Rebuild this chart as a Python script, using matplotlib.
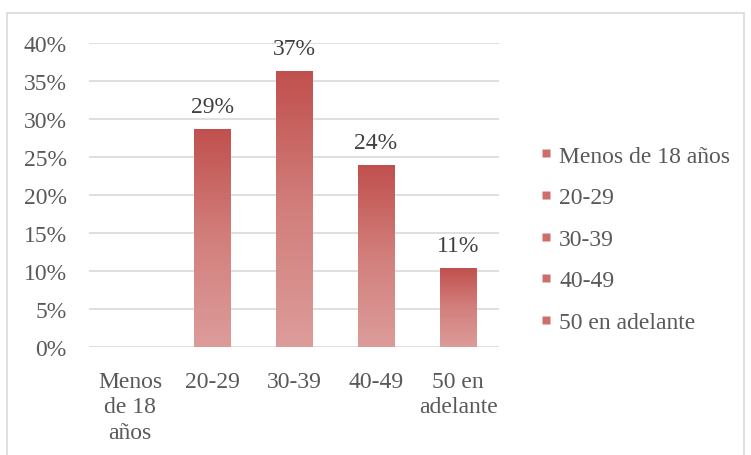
import numpy as np
import matplotlib.pyplot as plt
from matplotlib.colors import LinearSegmentedColormap
from matplotlib.patches import Rectangle
from matplotlib.lines import Line2D

categories = ["Menos\nde 18\naños", "20-29", "30-39", "40-49", "50 en\nadelante"]
legend_labels = ["Menos de 18 años", "20-29", "30-39", "40-49", "50 en adelante"]
values = [0.0, 28.7, 36.3, 23.9, 10.4]
value_labels = [None, "29%", "37%", "24%", "11%"]
yticks = [0, 5, 10, 15, 20, 25, 30, 35, 40]

plt.rcParams['font.family'] = ['Liberation Serif', 'DejaVu Serif']
text_color = "#595959"
grid_color = "#D9D9D9"
top_color = "#C0504D"
bottom_color = "#DC9C9A"
cmap = LinearSegmentedColormap.from_list("bar", [bottom_color, "#D27F7C", top_color])
fs = 17

fig = plt.figure(figsize=(7.51, 4.56), dpi=100)
fig.patches.append(Rectangle((7 / 751, -0.01), 737 / 751, 1 - 14 / 456 + 0.01,
                             transform=fig.transFigure, fill=False,
                             edgecolor=grid_color, linewidth=1.2))
ax = fig.add_axes([89 / 751, (456 - 348) / 456, (499 - 89) / 751, (348 - 44) / 456])

x = np.arange(len(categories))
width = 0.44
bars = ax.bar(x, values, width=width, color="none", zorder=3)
grad = np.linspace(0, 1, 256).reshape(-1, 1)
for b in bars:
    h = b.get_height()
    if h <= 0:
        continue
    x0 = b.get_x()
    im = ax.imshow(grad, cmap=cmap, aspect="auto", origin="lower",
                   extent=[x0, x0 + b.get_width(), 0, h], zorder=3)
    im.set_clip_path(b)

for xi, v, lab in zip(x, values, value_labels):
    if lab:
        ax.text(xi, v + 1.6, lab, ha="center", va="bottom", fontsize=fs, color="#404040")

ax.set_xlim(-0.5, len(categories) - 0.5)
ax.set_ylim(0, 40)
ax.set_yticks(yticks)
ax.set_yticklabels([f"{t}%" for t in yticks])
ax.set_xticks(x)
ax.set_xticklabels(categories, linespacing=1.3)
ax.yaxis.grid(True, color=grid_color, linewidth=1.2, zorder=0)
ax.set_axisbelow(True)
for s in ax.spines.values():
    s.set_visible(False)
ax.tick_params(axis="both", length=0, labelsize=fs, colors=text_color)
ax.tick_params(axis="y", pad=16)
ax.tick_params(axis="x", pad=17)

handles = [Line2D([], [], marker="s", linestyle="none", markersize=5.5,
                  markerfacecolor="#CD6E6B", markeredgecolor="none") for _ in legend_labels]
leg = fig.legend(handles, legend_labels, loc="center left",
                 bbox_to_anchor=(513 / 751, (456 - 240) / 456), frameon=False,
                 fontsize=fs, labelspacing=0.85, handletextpad=0.05, handlelength=1.0)
for t in leg.get_texts():
    t.set_color(text_color)

fig.savefig("out.png", dpi=100)
